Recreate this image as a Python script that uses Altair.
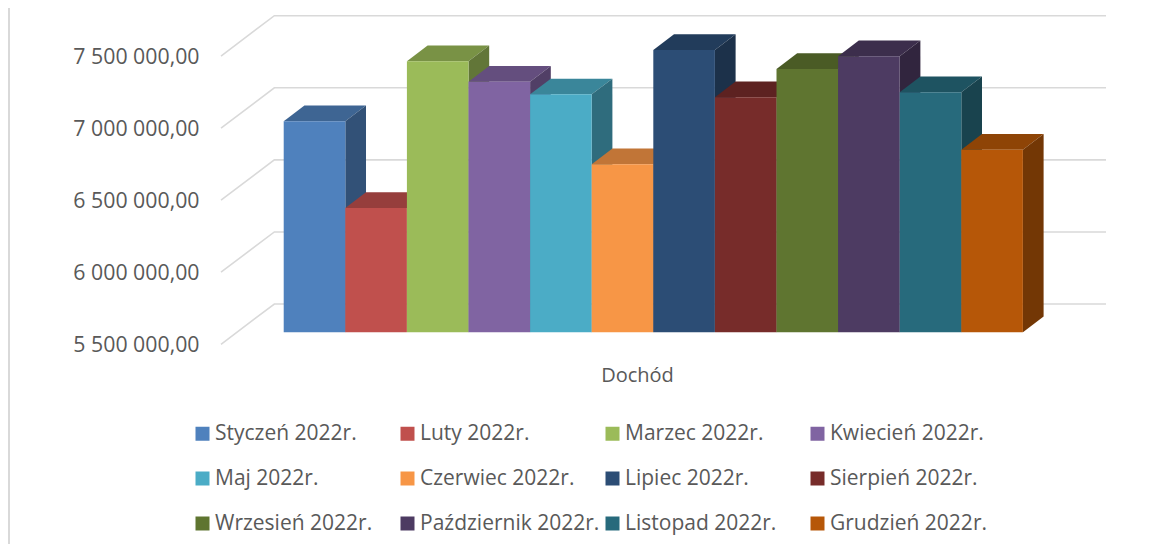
import altair as alt
import pandas as pd

months = ["Styczeń 2022r.", "Luty 2022r.", "Marzec 2022r.", "Kwiecień 2022r.",
          "Maj 2022r.", "Czerwiec 2022r.", "Lipiec 2022r.", "Sierpień 2022r.",
          "Wrzesień 2022r.", "Październik 2022r.", "Listopad 2022r.", "Grudzień 2022r."]
income = [6963800, 6362000, 7380000, 7238600, 7151000, 6665500,
          7458500, 7130400, 7326700, 7414800, 7165000, 6766800]
front_colors = ["#4F81BD", "#C0504D", "#9BBB59", "#8064A2", "#4BACC6", "#F79646",
                "#2C4D75", "#772C2A", "#5F7530", "#4D3B62", "#276A7C", "#B65708"]
ticks = [5500000, 6000000, 6500000, 7000000, 7500000]

FONT = "Open Sans"
TEXT = "#595959"
BASE = 5500000
# 3D projection, in data units
PLANE_SHIFT = 83250   # bar plane above the front edge
DEPTH_Y = 108900      # bar depth, value direction
DEPTH_X = 0.336       # bar depth, category direction
BACK_Y = 279600       # back wall above front edge
BACK_X = 0.866
X_MIN, X_MAX = -1.018, 13.349


def shade(hex_color, f):
    r, g, b = (int(hex_color[i:i + 2], 16) for i in (1, 3, 5))
    return "#%02x%02x%02x" % (round(r * f), round(g * f), round(b * f))


x_scale = alt.Scale(domain=[X_MIN, X_MAX], nice=False, zero=False)
y_scale = alt.Scale(domain=[5474330, 7833150], nice=False, zero=False)
X = alt.X("x:Q", scale=x_scale,
          axis=alt.Axis(title="Dochód", labels=False, ticks=False, domain=False, grid=False,
                        titleFont=FONT, titleFontSize=20, titleFontWeight="normal",
                        titleColor=TEXT, titleX=416, titleY=27, titleBaseline="middle",
                        titleAlign="center"))
Y = alt.Y("y:Q", scale=y_scale,
          axis=alt.Axis(title=None, values=ticks, ticks=False, domain=False, grid=False,
                        labelFont=FONT, labelFontSize=21.3, labelColor=TEXT, labelPadding=22,
                        labelOffset=1.5,
                        labelExpr="replace(replace(format(datum.value, ',.2f'), /,/g, ' '), '.', ',')"))
color = alt.Color("month:N",
                  scale=alt.Scale(domain=months, range=front_colors),
                  sort=months,
                  legend=alt.Legend(title=None, orient="none", legendX=-29, legendY=415,
                                    columns=4, direction="horizontal", gridAlign="all",
                                    symbolType="square",
                                    symbolSize=196, symbolStrokeWidth=0, labelFont=FONT,
                                    labelFontSize=21, labelColor=TEXT, labelLimit=400,
                                    labelOffset=2, columnPadding=2, rowPadding=23))

# left border of the chart frame
frame = alt.Chart(alt.Data(values=[{"a": 1}])).mark_rule(color="#d9d9d9", strokeWidth=2).encode(
    x=alt.value(-212), y=alt.value(0), y2=alt.value(536))

# gridlines on the side wall and back wall
grid_rows = []
for t in ticks:
    grid_rows += [{"g": t, "s": 0, "x": X_MIN, "y": t},
                  {"g": t, "s": 1, "x": X_MIN + BACK_X, "y": t + BACK_Y},
                  {"g": t, "s": 2, "x": X_MAX, "y": t + BACK_Y}]
grid = alt.Chart(pd.DataFrame(grid_rows)).mark_line(color="#d9d9d9", strokeWidth=1.6).encode(
    x=X, y=Y, detail="g:N", order="s:Q")

layers = [frame, grid]
for i, (m, v, c) in enumerate(zip(months, income, front_colors)):
    top_y = v + PLANE_SHIFT
    base_y = BASE + PLANE_SHIFT
    top_df = pd.DataFrame([
        {"x": i, "x2": i + 1, "y": top_y, "c": shade(c, 0.78)},
        {"x": i + DEPTH_X, "x2": i + 1 + DEPTH_X, "y": top_y + DEPTH_Y, "c": shade(c, 0.78)}])
    side_df = pd.DataFrame([
        {"x": i + 1, "y": top_y, "y2": base_y, "c": shade(c, 0.63)},
        {"x": i + 1 + DEPTH_X, "y": top_y + DEPTH_Y, "y2": base_y + DEPTH_Y, "c": shade(c, 0.63)}])
    front_df = pd.DataFrame([{"x": i, "x2": i + 1, "y": top_y, "y2": base_y, "month": m}])
    layers.append(alt.Chart(top_df).mark_area(orient="horizontal").encode(
        x=X, x2="x2:Q", y=Y, fill=alt.Fill("c:N", scale=None)))
    layers.append(alt.Chart(side_df).mark_area(orient="vertical").encode(
        x=X, y=Y, y2="y2:Q", fill=alt.Fill("c:N", scale=None)))
    layers.append(alt.Chart(front_df).mark_rect().encode(
        x=X, x2="x2:Q", y=Y, y2="y2:Q", color=color))

chart = alt.layer(*layers).properties(
    width=885, height=340,
    autosize=alt.AutoSizeParams(type="none"),
    padding={"left": 213, "top": 0, "right": 59, "bottom": 196},
    background="white",
).configure_view(stroke=None)

chart.save("out.html", embed_options={"renderer": "svg", "actions": False})
